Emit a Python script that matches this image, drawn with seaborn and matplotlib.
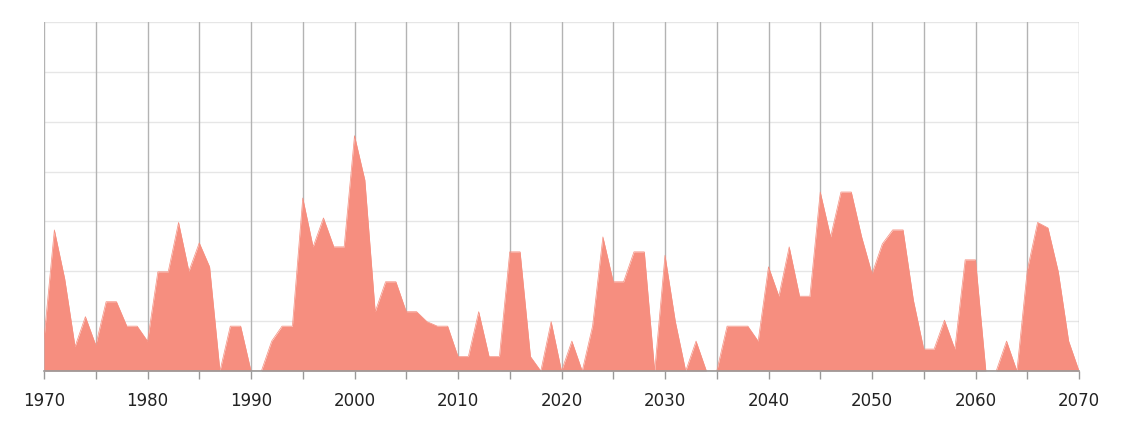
import matplotlib
matplotlib.use("Agg")
import matplotlib.pyplot as plt
import seaborn as sns
import pandas as pd
import numpy as np

years = list(range(1970, 2071))
values = [
    0.65, 2.83, 1.85, 0.49, 1.09, 0.52, 1.39, 1.39, 0.9, 0.9,      # 1970-1979
    0.6, 1.99, 1.99, 2.98, 2.0, 2.57, 2.09, 0.0, 0.9, 0.9,         # 1980-1989
    0.0, 0.0, 0.6, 0.9, 0.9, 3.47, 2.49, 3.07, 2.49, 2.49,         # 1990-1999
    4.72, 3.83, 1.19, 1.79, 1.79, 1.19, 1.19, 0.99, 0.9, 0.9,      # 2000-2009
    0.29, 0.29, 1.19, 0.29, 0.29, 2.39, 2.39, 0.29, 0.0, 0.99,     # 2010-2019
    0.0, 0.6, 0.0, 0.9, 2.69, 1.79, 1.79, 2.39, 2.39, 0.0,         # 2020-2029
    2.32, 0.99, 0.0, 0.6, 0.0, 0.0, 0.9, 0.9, 0.9, 0.6,            # 2030-2039
    2.09, 1.5, 2.49, 1.5, 1.5, 3.59, 2.69, 3.59, 3.59, 2.69,       # 2040-2049
    1.95, 2.55, 2.83, 2.83, 1.42, 0.44, 0.44, 1.02, 0.44, 2.23,    # 2050-2059
    2.23, 0.0, 0.0, 0.6, 0.0, 2.02, 2.98, 2.87, 1.99, 0.6,         # 2060-2069
    0.0,                                                            # 2070
]
tick_years = list(range(1970, 2071, 5))
label_years = list(range(1970, 2071, 10))

df = pd.DataFrame({"year": years, "value": values})

sns.set_theme(style="white")
plt.rcParams['font.family'] = ['DejaVu Sans']

fig = plt.figure(figsize=(11.23, 4.23), dpi=100)
ax = fig.add_axes([44 / 1123, (423 - 371) / 423, (1079 - 44) / 1123, (371 - 22) / 423])

color = "#F68E7F"
sns.lineplot(data=df, x="year", y="value", ax=ax, color=color, linewidth=0.5, zorder=5)
ax.fill_between(df["year"], df["value"], 0, color=color, linewidth=0, zorder=5)

ax.set_xlim(1970, 2070)
ax.set_ylim(0, 7)
ax.set_yticks(range(0, 8))
ax.set_yticklabels([])
ax.tick_params(axis="y", length=0)
ax.set_xticks(tick_years)
ax.set_xticklabels([str(y) if y in label_years else "" for y in tick_years],
                   fontsize=12, color="#222222")
ax.tick_params(axis="x", length=6, width=1, color="#999999", pad=9, direction="out", bottom=True)

for y in range(1, 8):
    ax.axhline(y, color="#e6e6e6", linewidth=1, zorder=1)
for x in tick_years:
    ax.axvline(x, color="#b3b3b3", linewidth=1, zorder=2)

for s in ["top", "right", "left"]:
    ax.spines[s].set_visible(False)
ax.spines["bottom"].set_color("#999999")
ax.spines["bottom"].set_linewidth(1.2)
ax.spines["bottom"].set_zorder(6)
ax.set_xlabel("")
ax.set_ylabel("")

fig.savefig("out.png", dpi=100)
